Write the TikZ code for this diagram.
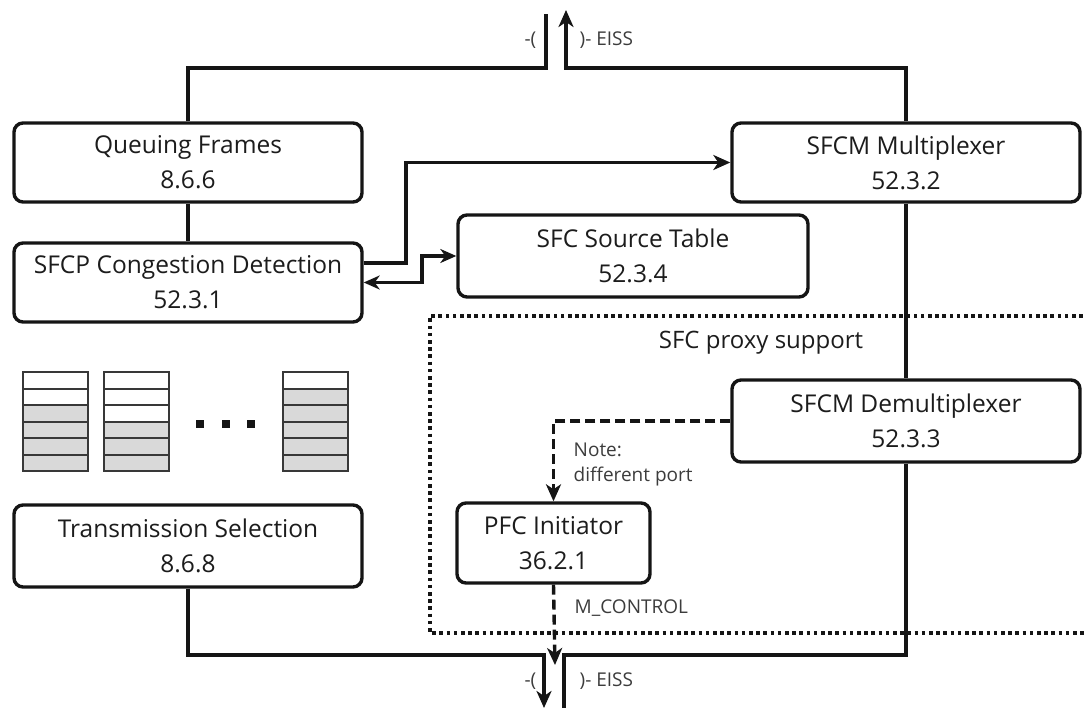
\documentclass[tikz,border=0pt]{standalone}
\usepackage{fontspec}
\setmainfont{Open Sans}
\usetikzlibrary{arrows.meta}
\definecolor{ink}{HTML}{151515}
\definecolor{txt}{HTML}{1C1C1C}
\definecolor{small}{HTML}{3C3C3C}
\definecolor{qgray}{HTML}{D9D9D9}
\begin{document}
\begin{tikzpicture}[x=1pt,y=-1pt, line width=3.4pt, color=ink,
  blk/.style={draw=ink, line width=3.4pt, rounded corners=9pt, fill=white,
    minimum width=348pt, minimum height=79pt, align=center, text=txt,
    font=\fontsize{24.5}{35}\selectfont, inner sep=0pt},
  lbl/.style={text=small, font=\fontsize{19}{25}\selectfont, inner sep=0pt, align=left},
  arr/.style={-{Stealth[length=17pt,width=15pt,inset=5pt]}},
  darr/.style={{Stealth[length=16pt,width=14pt,inset=5pt]}-{Stealth[length=16pt,width=14pt,inset=5pt]}},
  dsh/.style={dash pattern=on 10pt off 5pt},
  dots/.style={line width=3.4pt, dash pattern=on 3.6pt off 3.6pt},
  qcell/.style={draw=ink!85, line width=2pt}
]
\useasboundingbox (0,0) rectangle (1084,708);

% dotted region
\draw[dots] (1090,316) -- (430,316) -- (430,633) -- (1090,633);
\node[text=txt, font=\fontsize{24}{30}\selectfont, inner sep=0pt] (proxy) at (761,343) {SFC proxy support};

% blocks
\node[blk] (qf) at (188,162.5) {Queuing Frames\\8.6.6};
\node[blk] (cd) at (188,282.5) {SFCP Congestion Detection\\52.3.1};
\node[blk, minimum height=82pt] (ts) at (188,546) {Transmission Selection\\8.6.8};
\node[blk, minimum width=350pt, minimum height=82pt] (st) at (633,256) {SFC Source Table\\52.3.4};
\node[blk] (mux) at (906,162.5) {SFCM Multiplexer\\52.3.2};
\node[blk, minimum height=82pt] (dmx) at (906,421) {SFCM Demultiplexer\\52.3.3};
\node[blk, minimum width=193pt, minimum height=80pt] (pfc) at (553.5,543) {PFC Initiator\\36.2.1};

% queues
\foreach \x/\w in {23/2,104/3,283/1}{
  \foreach \i in {0,...,5}{
    \pgfmathsetmacro\yy{372+\i*16.5}
    \ifnum\i<\w
      \filldraw[qcell, fill=white] (\x,\yy) rectangle ++(65,16.5);
    \else
      \filldraw[qcell, fill=qgray] (\x,\yy) rectangle ++(65,16.5);
    \fi
  }
}
\foreach \x in {200,226,251}{
  \fill[ink] (\x-4,420) rectangle (\x+4,428);
}

% coordinates for free ends
\coordinate (tlc) at (546,68);
\coordinate (tl) at (546,14);
\coordinate (trc) at (566,68);
\coordinate (tr) at (566,10);
\coordinate (blc) at (544,655);
\coordinate (bl) at (544,708);
\coordinate (brc) at (564,655);
\coordinate (br) at (564,712);
\coordinate (mc) at (555,665);

% connectors
\draw (qf.north) |- (tlc) -- (tl);
\draw[arr] (mux.north) |- (trc) -- (tr);
\draw (qf.south) -- (cd.north);
\draw[arr] ([yshift=19.5pt]cd.east) -- (406,263) |- (mux.west);
\draw[darr] (cd.east) -- (422,282.5) |- (st.west);
\draw (mux.south) -- (dmx.north);
\draw (dmx.south) |- (brc) -- (br);
\draw[arr] (ts.south) |- (blc) -- (bl);
\draw[arr, dsh] (dmx.west) -| (pfc.north);
\draw[arr, dsh] (pfc.south) -- (mc);

% labels
\node[lbl, anchor=east] (l1) at (538,40) {-(};
\node[lbl, anchor=west] (l2) at (578,40) {)- EISS};
\node[lbl, anchor=east] (l3) at (538,681) {-(};
\node[lbl, anchor=west] (l4) at (578,681) {)- EISS};
\node[lbl, anchor=north west] (note) at (572,441) {Note:\\different port};
\node[lbl, anchor=west] (mctl) at (573,608) {M\_CONTROL};
\end{tikzpicture}
\end{document}
